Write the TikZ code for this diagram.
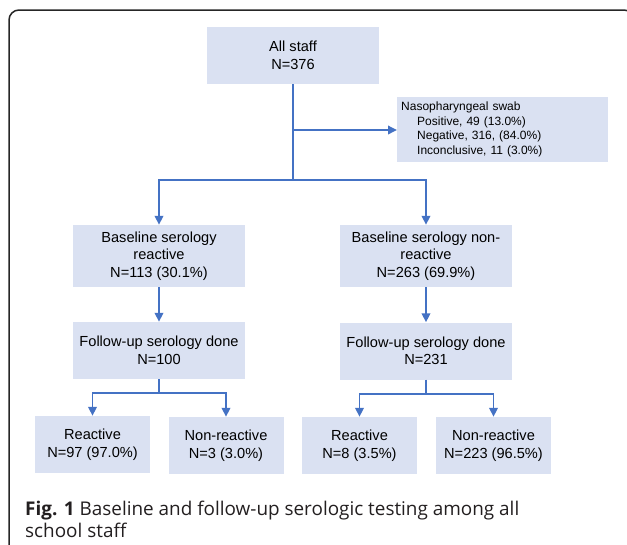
\documentclass[tikz,border=0pt]{standalone}
\usepackage{fontspec}
\setmainfont{Liberation Sans}
\newfontfamily\capfont{Open Sans}
\usetikzlibrary{arrows.meta}
\definecolor{boxfill}{RGB}{218,225,242}
\definecolor{linkblue}{RGB}{68,114,196}
\definecolor{captiongray}{RGB}{35,31,32}
\tikzset{
  flowbox/.style={fill=boxfill, draw=none, inner sep=0pt, align=center,
    font=\fontsize{14.6pt}{17.5pt}\selectfont},
  bigbox/.style={flowbox, minimum width=172pt, minimum height=57pt},
  tallbox/.style={flowbox, minimum width=172pt, minimum height=62pt},
  smallbox/.style={flowbox, minimum width=115pt, minimum height=57pt},
  swabbox/.style={fill=boxfill, draw=none, inner xsep=4pt, inner ysep=0pt,
    minimum height=65pt, text width=203pt, align=left,
    font=\fontsize{12pt}{14.6pt}\selectfont},
  link/.style={draw=linkblue, line width=1.8pt},
  arrowlink/.style={link, -{Triangle[width=8.5pt,length=9pt]}},
  frame/.style={draw=black!85, line width=1.5pt, rounded corners=10pt},
  captext/.style={anchor=base west, inner sep=0pt,
    font=\capfont\fontsize{18.9pt}{24pt}\selectfont, text=captiongray}
}
\begin{document}
\begin{tikzpicture}[x=1pt, y=-1pt]
\useasboundingbox (0,0) rectangle (627,544);
\draw[frame] (9,560) -- (9,10) -- (634,10) -- (634,560);

\node[bigbox] (all) at (293,55.5) {All staff\\N=376};
\node[swabbox, anchor=west] (swab) at (397,129.5) {Nasopharyngeal swab\\
\hspace*{16pt}Positive, 49 (13.0\%)\\
\hspace*{16pt}Negative, 316, (84.0\%)\\
\hspace*{16pt}Inconclusive, 11 (3.0\%)};

\node[tallbox] (br) at (159,256) {Baseline serology\\reactive\\N=113 (30.1\%)};
\node[tallbox] (bn) at (426,256) {Baseline serology non-\\reactive\\N=263 (69.9\%)};

\node[bigbox] (fl) at (159,350.5) {Follow-up serology done\\N=100};
\node[bigbox] (fr) at (426,351) {Follow-up serology done\\N=231};

\node[smallbox] (lr) at (92.5,444.5) {Reactive\\N=97 (97.0\%)};
\node[smallbox] (ln) at (226,445.5) {Non-reactive\\N=3 (3.0\%)};
\node[smallbox] (rr) at (359.5,445.5) {Reactive\\N=8 (3.5\%)};
\node[smallbox] (rn) at (493.5,445.5) {Non-reactive\\N=223 (96.5\%)};

\coordinate (j1) at (293,180);
\coordinate (jswab) at (293,130);
\coordinate (j2) at (159,393);
\coordinate (j3) at (426,394);

\draw[link] (all.south) -- (j1);
\draw[arrowlink] (jswab) -- (swab.west |- jswab);
\draw[arrowlink] (j1) -| (br.north);
\draw[arrowlink] (j1) -| (bn.north);
\draw[arrowlink] (br.south) -- (fl.north);
\draw[arrowlink] (bn.south) -- (fr.north);
\draw[link] (fl.south) -- (j2);
\draw[arrowlink] (j2) -| (lr.north);
\draw[arrowlink] (j2) -| (ln.north);
\draw[link] (fr.south) -- (j3);
\draw[arrowlink] (j3) -| (rr.north);
\draw[arrowlink] (j3) -| (rn.north);

\node[captext] (cap1) at (25,515) {\textbf{Fig. 1} Baseline and follow-up serologic testing among all};
\node[captext] (cap2) at (25,537) {school staff};
\end{tikzpicture}
\end{document}
